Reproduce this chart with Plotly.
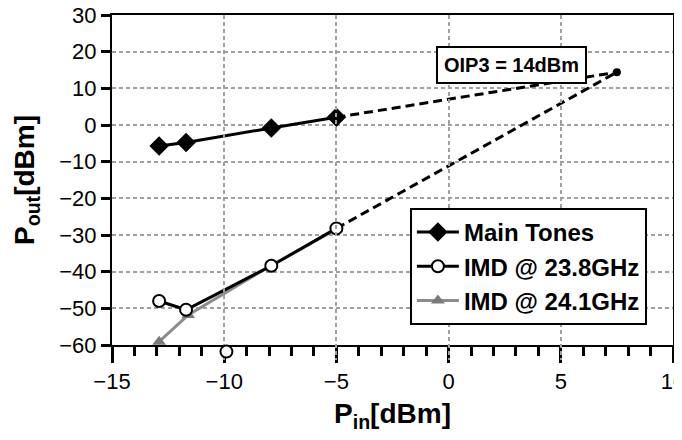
import plotly.graph_objects as go

pin_main = [-12.9, -11.7, -7.9, -5.0]
pout_main = [-5.7, -4.8, -0.8, 2.1]

pin_imd1 = [-12.9, -11.7, -7.9, -5.0]
pout_imd1 = [-48.0, -50.4, -38.4, -28.2]
pin_imd1_out = [-9.9]
pout_imd1_out = [-61.8]

pin_imd2 = [-12.9, -11.6, -7.9, -5.0]
pout_imd2 = [-59.1, -51.8, -38.3, -28.4]

ip3_x = 7.5
ip3_y = 14.4
ext_main_x = [-5.0, ip3_x]
ext_main_y = [2.1, ip3_y]
ext_imd_x = [-5.0, ip3_x]
ext_imd_y = [-28.2, ip3_y]

# page body has an 8px default margin, so the figure is made 8px smaller
# and shifted margins keep the plot area at x 112..673, y 15..360
H_PLOT = 345.0
MAIN_PX = 330.0
d0 = (H_PLOT - MAIN_PX) / H_PLOT
y_lo, y_hi = -60, 30
y2_lo = y_hi - (y_hi - y_lo) * H_PLOT / MAIN_PX

DASH = "9px,5px"

fig = go.Figure()

fig.add_trace(go.Scatter(x=ext_main_x, y=ext_main_y, mode="lines",
                         line=dict(color="black", width=3, dash=DASH), showlegend=False))
fig.add_trace(go.Scatter(x=ext_imd_x, y=ext_imd_y, mode="lines",
                         line=dict(color="black", width=3, dash=DASH), showlegend=False))
fig.add_trace(go.Scatter(x=[ip3_x], y=[ip3_y], mode="markers",
                         marker=dict(color="black", size=8), showlegend=False))

fig.add_trace(go.Scatter(x=pin_main, y=pout_main, mode="lines+markers", name="Main Tones",
                         line=dict(color="black", width=3), legendrank=1,
                         marker=dict(symbol="diamond", size=15, color="black")))
fig.add_trace(go.Scatter(x=pin_imd2, y=pout_imd2, mode="lines+markers", name="IMD @ 24.1GHz",
                         line=dict(color="#8c8c8c", width=3),
                         marker=dict(symbol="triangle-up", size=12, color="#7a7a7a"),
                         cliponaxis=False, legendrank=3))
fig.add_trace(go.Scatter(x=pin_imd1, y=pout_imd1, mode="lines+markers", name="IMD @ 23.8GHz",
                         line=dict(color="black", width=3),
                         marker=dict(symbol="circle", size=12, color="white",
                                     line=dict(color="black", width=2)),
                         cliponaxis=False, legendrank=2))
fig.add_trace(go.Scatter(x=pin_imd1_out, y=pout_imd1_out, mode="markers", yaxis="y2",
                         marker=dict(symbol="circle", size=12, color="white",
                                     line=dict(color="black", width=2)),
                         cliponaxis=False, showlegend=False))

fig.add_annotation(x=0.847, y=0.910, xref="paper", yref="paper", text="<b>OIP3 = 14dBm</b>",
                   showarrow=False, font=dict(size=20, color="black", family="Arial"),
                   bordercolor="black", borderwidth=2, bgcolor="white", borderpad=6)

fig.update_layout(
    width=674, height=432,
    margin=dict(l=104, r=9, t=7, b=80),
    plot_bgcolor="rgba(0,0,0,0)", paper_bgcolor="white",
    font=dict(family="Arial", size=22, color="black"),
    legend=dict(x=0.531, y=0.4406, xanchor="left", yanchor="top",
                bordercolor="black", borderwidth=2, bgcolor="white",
                font=dict(size=24, family="Arial", weight="bold"),
                traceorder="normal", itemwidth=42, tracegroupgap=0),
    xaxis=dict(range=[-15, 10], dtick=5, tick0=-15, anchor="y", automargin=False,
               showline=True, linecolor="black", linewidth=2, mirror=True,
               ticks="outside", ticklen=16, tickwidth=2.5, tickcolor="black",
               ticklabeloverflow="allow",
               minor=dict(dtick=1, ticks="outside", ticklen=9, tickwidth=2.5, tickcolor="black", showgrid=False),
               showgrid=True, gridcolor="#a0a0a0", griddash="4px,3px", gridwidth=1.5,
               zeroline=False,
               title=dict(text="<b>P<sub>in</sub>[dBm]</b>", font=dict(size=28), standoff=10)),
    yaxis=dict(range=[y_lo, y_hi], dtick=10, domain=[d0, 1], automargin=False,
               showline=True, linecolor="black", linewidth=2, mirror=True,
               ticks="outside", ticklen=9, tickwidth=2.5, tickcolor="black",
               ticklabeloverflow="allow",
               showgrid=True, gridcolor="#a0a0a0", griddash="4px,3px", gridwidth=1.5,
               zeroline=False,
               title=dict(text="<b>P<sub>out</sub>[dBm]</b>", font=dict(size=28), standoff=16)),
    yaxis2=dict(range=[y2_lo, y_hi], domain=[0, 1], anchor="x", visible=False,
                automargin=False, showgrid=False, zeroline=False),
)

fig.write_html("out.html")
